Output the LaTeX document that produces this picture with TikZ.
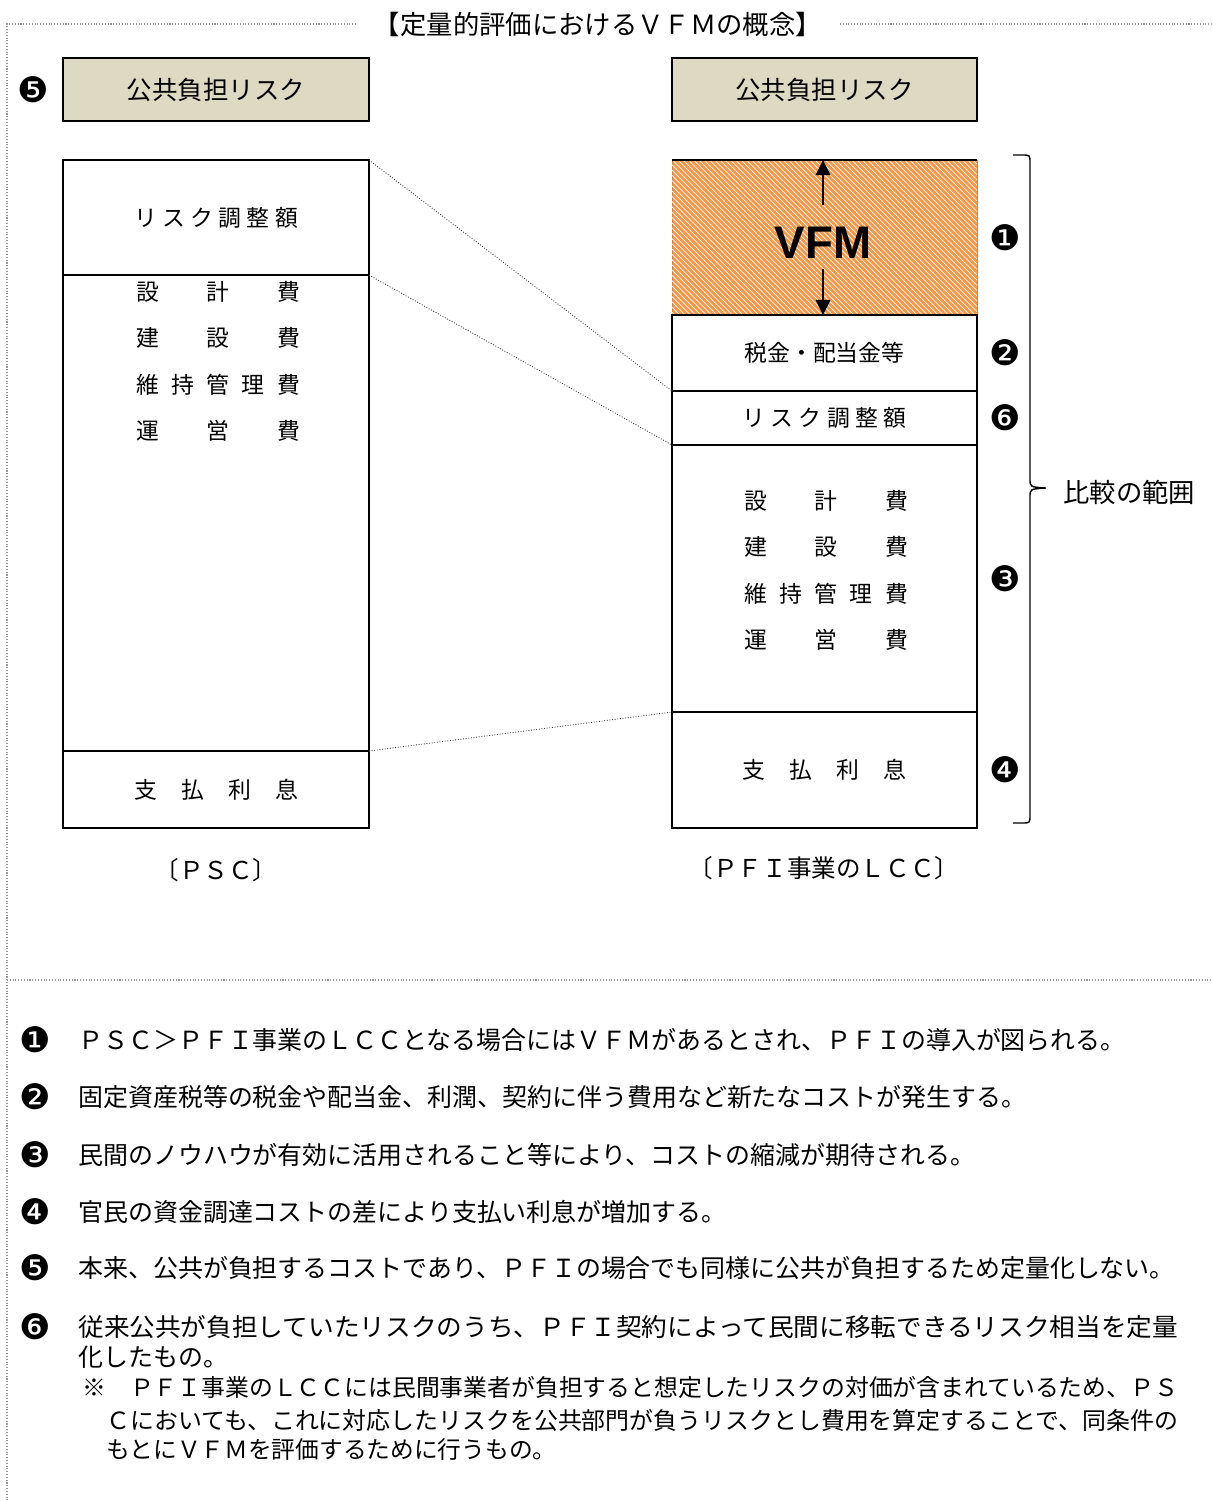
\documentclass[tikz,border=0pt]{standalone}
\usepackage{fontspec}
\setmainfont{Noto Sans CJK JP}
\newfontfamily\symfont{DejaVu Sans}
\newfontfamily\vfmfont{Liberation Sans}
\usetikzlibrary{arrows.meta,patterns}

\definecolor{riskbeige}{RGB}{221,217,195}
\definecolor{vfmorange}{RGB}{247,150,70}

\newcommand{\spread}[1]{\makebox[3.28cm][s]{#1}}
\newcommand{\justline}[2]{\resizebox{#1}{\height}{#2}}

\begin{document}
\begin{tikzpicture}[x=0.02cm, y=-0.02cm,
    frameline/.style={gray!80, densely dotted, line width=0.6pt},
    linkline/.style={black!75, densely dotted, line width=0.5pt},
    hdrbox/.style={draw, line width=1.1pt, fill=riskbeige, minimum width=6.12cm, minimum height=1.26cm, inner sep=0pt, font=\fontsize{14.5}{17}\selectfont},
    cell/.style={draw, line width=1.1pt, minimum width=6.12cm, inner sep=0pt, outer sep=0pt, font=\fontsize{13}{16}\selectfont},
    costlist/.style={align=center, inner sep=0pt, font=\fontsize{13}{26.5}\selectfont},
    vfmarrow/.style={line width=1.6pt, -{Triangle[length=0.3cm, width=0.28cm]}},
    num/.style={inner sep=0pt, font=\symfont\fontsize{20}{22}\selectfont},
    itemtext/.style={anchor=west, inner sep=0pt, font=\fontsize{14.2}{17}\selectfont},
    notetext/.style={anchor=west, inner sep=0pt, font=\fontsize{13.5}{16}\selectfont}]

    \useasboundingbox (0,0) rectangle (1212,1501);

    % frame and title
    \node[inner xsep=10pt, inner ysep=0pt, font=\fontsize{15}{18}\selectfont] (title) at (598,24) {【定量的評価におけるＶＦＭの概念】};
    \draw[frameline] (1212,24) -- (title.east);
    \draw[frameline] (title.west) -- (7,24) -- (7,1501);
    \draw[frameline] (7,980) -- (1212,980);

    % public risk boxes
    \node[hdrbox] (psc-top) at (216,89.5) {公共負担リスク};
    \node[hdrbox, minimum width=6.1cm] (lcc-top) at (824.5,89.5) {公共負担リスク};
    \node[num] (n5) at (33,90) {❺};

    % PSC column
    \node[cell, minimum height=2.3cm] (psc-risk) at (216,217.5) {\spread{リ\hfill ス\hfill ク\hfill 調\hfill 整\hfill 額}};
    \node[cell, minimum height=9.52cm] (psc-cost) at (216,513) {};
    \node[cell, minimum height=1.54cm] (psc-int) at (216,789.5) {\spread{支\hfill 払\hfill 利\hfill 息}};
    \node[costlist] (psc-items) at (218,361.5) {\spread{設\hfill 計\hfill 費}\\ \spread{建\hfill 設\hfill 費}\\ \spread{維\hfill 持\hfill 管\hfill 理\hfill 費}\\ \spread{運\hfill 営\hfill 費}};

    % PFI LCC column
    \node[minimum width=6.1cm, minimum height=3.1cm, inner sep=0pt, outer sep=0pt, draw=vfmorange!85!black, line width=0.4pt, fill=vfmorange, postaction={pattern=north west lines, pattern color=white}] (vfm) at (824.5,237.5) {};
    \draw[line width=0.6pt] (vfm.north west) -- (vfm.north east);
    \node[cell, minimum width=6.1cm, minimum height=1.52cm] (tax) at (824.5,353) {税金・配当金等};
    \node[cell, minimum width=6.1cm, minimum height=1.08cm] (lcc-risk) at (824.5,418) {\spread{リ\hfill ス\hfill ク\hfill 調\hfill 整\hfill 額}};
    \node[cell, minimum width=6.1cm, minimum height=5.34cm] (lcc-cost) at (824.5,578.5) {};
    \node[cell, minimum width=6.1cm, minimum height=2.32cm] (lcc-int) at (824.5,770) {\spread{支\hfill 払\hfill 利\hfill 息}};
    \node[costlist] (lcc-items) at (826,570.5) {\spread{設\hfill 計\hfill 費}\\ \spread{建\hfill 設\hfill 費}\\ \spread{維\hfill 持\hfill 管\hfill 理\hfill 費}\\ \spread{運\hfill 営\hfill 費}};

    \node[inner sep=0pt, font=\vfmfont\bfseries\fontsize{26}{30}\selectfont] (vfm-label) at (823,243) {VFM};
    \draw[vfmarrow] ([yshift=0.44cm]vfm-label.north) -- (vfm-label.north |- vfm.north);
    \draw[vfmarrow] ([yshift=-0.2cm]vfm-label.south) -- (vfm-label.south |- vfm.south);

    % numbers beside the LCC column
    \node[num] (n1) at ([xshift=0.56cm]vfm.east) {❶};
    \node[num] (n2) at ([xshift=0.56cm]tax.east) {❷};
    \node[num] (n6) at ([xshift=0.56cm]lcc-risk.east) {❻};
    \node[num] (n3) at ([xshift=0.56cm]lcc-cost.east) {❸};
    \node[num] (n4) at ([xshift=0.56cm]lcc-int.east) {❹};

    % brace
    \draw[line width=0.8pt] (1013,155) -- (1022,155) .. controls (1030,155) .. (1030,163) -- (1030,479)
        .. controls (1030,487) .. (1046,488) .. controls (1030,489) .. (1030,497) -- (1030,815)
        .. controls (1030,823) .. (1022,823) -- (1013,823);
    \node[anchor=west, inner sep=0pt, font=\fontsize{15}{18}\selectfont] (range-label) at (1063,492) {比較の範囲};

    % links between the columns
    \draw[linkline] (psc-risk.north east) -- (lcc-risk.north west);
    \draw[linkline] (psc-risk.south east) -- (lcc-risk.south west);
    \draw[linkline] (psc-int.north east) -- (lcc-int.north west);

    \node[font=\fontsize{14}{17}\selectfont] (psc-name) at (216,870) {〔ＰＳＣ〕};
    \node[font=\fontsize{14}{17}\selectfont] (lcc-name) at (824,868) {〔ＰＦＩ事業のＬＣＣ〕};

    % notes
    \node[num] (k1) at (35,1040) {❶};
    \node[itemtext] (t1) at (78,1040) {ＰＳＣ＞ＰＦＩ事業のＬＣＣとなる場合にはＶＦＭがあるとされ、ＰＦＩの導入が図られる。};
    \node[num] (k2) at (35,1097) {❷};
    \node[itemtext] (t2) at (78,1097) {固定資産税等の税金や配当金、利潤、契約に伴う費用など新たなコストが発生する。};
    \node[num] (k3) at (35,1155) {❸};
    \node[itemtext] (t3) at (78,1155) {民間のノウハウが有効に活用されること等により、コストの縮減が期待される。};
    \node[num] (k4) at (35,1212) {❹};
    \node[itemtext] (t4) at (78,1212) {官民の資金調達コストの差により支払い利息が増加する。};
    \node[num] (k5) at (35,1268) {❺};
    \node[itemtext] (t5) at (78,1268) {本来、公共が負担するコストであり、ＰＦＩの場合でも同様に公共が負担するため定量化しない。};
    \node[num] (k6) at (35,1327) {❻};
    \node[itemtext] (t6a) at (78,1327) {\justline{22cm}{従来公共が負担していたリスクのうち、ＰＦＩ契約によって民間に移転できるリスク相当を定量}};
    \node[itemtext] (t6b) at (78,1357) {化したもの。};
    \node[notetext] (m1) at (82,1387) {\justline{21.92cm}{※　ＰＦＩ事業のＬＣＣには民間事業者が負担すると想定したリスクの対価が含まれているため、ＰＳ}};
    \node[notetext] (m2) at (106,1420) {\justline{21.44cm}{Ｃにおいても、これに対応したリスクを公共部門が負うリスクとし費用を算定することで、同条件の}};
    \node[notetext] (m3) at (106,1449) {もとにＶＦＭを評価するために行うもの。};
\end{tikzpicture}
\end{document}
